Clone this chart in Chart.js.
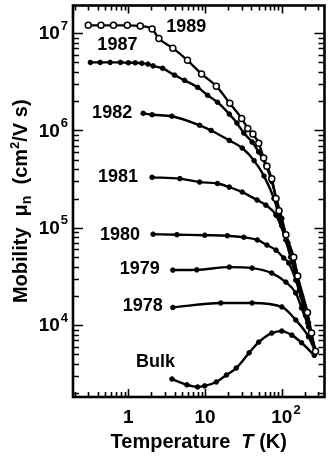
<!DOCTYPE html>
<html>
<head>
<meta charset="utf-8">
<script src="https://cdn.jsdelivr.net/npm/chart.js@4.4.1/dist/chart.umd.min.js"></script>
<style>
html, body { margin: 0; padding: 0; background: #fff; }
#wrap { width: 330px; height: 456px; position: relative; }
</style>
</head>
<body>
<div id="wrap"><canvas id="graphCanvas"></canvas></div>
<script>
// temperature (K) and electron mobility (cm^2/V s) for each sample year
var t1989 = [0.30, 0.44, 0.64, 0.97, 1.43, 2.04, 2.5, 3.8, 5.9, 9.0, 14, 21, 30, 36, 42, 50, 58, 64, 74, 84, 92, 113, 143, 161, 216, 244, 275];
var mu1989 = [1.2e7, 1.2e7, 1.2e7, 1.2e7, 1.18e7, 1.1e7, 8.8e6, 7.0e6, 5.25e6, 3.8e6, 2.85e6, 1.9e6, 1.33e6, 1.05e6, 9.2e5, 7.4e5, 5.2e5, 4.3e5, 3.2e5, 2.0e5, 1.5e5, 8.5e4, 5.0e4, 3.2e4, 1.35e4, 8.3e3, 5.4e3];

var t1987 = [0.32, 0.43, 0.58, 0.79, 1.0, 1.23, 1.5, 1.8, 2.1, 2.8, 4.0, 5.4, 8.0, 10.8, 14.5, 20.7, 26, 32, 41, 50, 62, 74, 85, 100, 120, 150, 180, 220, 275];
var mu1987 = [5.0e6, 5.0e6, 5.0e6, 5.0e6, 4.95e6, 4.95e6, 4.9e6, 4.8e6, 4.6e6, 4.35e6, 3.7e6, 3.27e6, 2.77e6, 2.3e6, 1.95e6, 1.47e6, 1.19e6, 9.4e5, 7.6e5, 6.0e5, 4.4e5, 3.0e5, 2.0e5, 1.25e5, 7.0e4, 3.6e4, 2.0e4, 1.05e4, 5.3e3];

var t1982 = [1.56, 2.04, 3.7, 8.5, 12, 20.7, 30.5, 43.5, 58.6, 79, 100, 130, 170, 220, 275];
var mu1982 = [1.5e6, 1.45e6, 1.4e6, 1.13e6, 1.0e6, 7.9e5, 6.6e5, 4.9e5, 3.4e5, 2.0e5, 1.05e5, 5.0e4, 2.3e4, 1.05e4, 5.3e3];

var t1981 = [2.04, 4.7, 8.5, 14.5, 20.7, 30.5, 47.6, 62, 84, 113, 152, 204, 275];
var mu1981 = [3.3e5, 3.2e5, 2.95e5, 2.85e5, 2.62e5, 2.33e5, 1.93e5, 1.71e5, 1.35e5, 7.5e4, 3.3e4, 1.26e4, 5.3e3];

var t1980 = [2.1, 4.3, 9.9, 19.5, 32, 48, 64, 84, 106, 123, 152, 192, 223, 275];
var mu1980 = [8.6e4, 8.5e4, 8.4e4, 8.3e4, 8.0e4, 7.5e4, 6.65e4, 5.9e4, 4.9e4, 4.35e4, 2.9e4, 1.6e4, 1.05e4, 5.3e3];

var t1979 = [3.8, 7.8, 20.7, 41, 74, 113, 152, 181, 223, 275];
var mu1979 = [3.68e4, 3.7e4, 3.95e4, 3.86e4, 3.43e4, 2.77e4, 2.14e4, 1.5e4, 9.6e3, 5.3e3];

var t1978 = [3.8, 16, 41, 100, 152, 223, 275];
var mu1978 = [1.52e4, 1.69e4, 1.69e4, 1.54e4, 1.13e4, 7.6e3, 5.3e3];

var tBulk = [3.7, 5.8, 8.0, 9.9, 14, 19, 25.5, 37.5, 50, 74, 100, 135, 181, 265];
var muBulk = [2.8e3, 2.44e3, 2.32e3, 2.38e3, 2.61e3, 3.08e3, 3.63e3, 5.2e3, 6.7e3, 8.3e3, 8.7e3, 7.9e3, 6.6e3, 4.9e3];

var seriesNames = ['1989', '1987', '1982', '1981', '1980', '1979', '1978', 'Bulk'];
var seriesT = [t1989, t1987, t1982, t1981, t1980, t1979, t1978, tBulk];
var seriesMu = [mu1989, mu1987, mu1982, mu1981, mu1980, mu1979, mu1978, muBulk];

// decade labels, "base^exponent"
var xTickValues = [1, 10, 100];
var xTickLabels = ['1', '10', '10^2'];
var yTickValues = [1e4, 1e5, 1e6, 1e7];
var yTickLabels = ['10^4', '10^5', '10^6', '10^7'];

var FONT = "'Liberation Sans', Arial, sans-serif";

// where each curve's name sits, relative to its first point
var nameOffsets = [
    { dx: 78, dy: 2, align: 'left' },
    { dx: 7, dy: -17, align: 'left' },
    { dx: -11, dy: 0, align: 'right' },
    { dx: -14, dy: 0, align: 'right' },
    { dx: -13, dy: 1, align: 'right' },
    { dx: -13, dy: -1, align: 'right' },
    { dx: -10, dy: -1, align: 'right' },
    { dx: 3, dy: -17, align: 'right' }
];

var datasets = [];
for (var s = 0; s < seriesNames.length; s++) {
    var pts = [];
    for (var i = 0; i < seriesT[s].length; i++) {
        pts.push({ x: seriesT[s][i], y: seriesMu[s][i] });
    }
    var open = seriesNames[s] === '1989';
    datasets.push({
        label: seriesNames[s],
        data: pts,
        borderColor: '#000',
        borderWidth: 2.4,
        backgroundColor: open ? '#fff' : '#000',
        pointBackgroundColor: open ? '#fff' : '#000',
        pointBorderColor: '#000',
        pointBorderWidth: open ? 1.5 : 1,
        pointRadius: open ? 3 : 2.3,
        cubicInterpolationMode: 'monotone',
        fill: false
    });
}

// "10^2" -> base with a raised exponent; align is where x sits on the base
function drawPower(ctx, label, x, y, align) {
    var parts = label.split('^');
    ctx.font = 'bold 19px ' + FONT;
    var wb = ctx.measureText(parts[0]).width;
    var we = 0;
    if (parts[1]) {
        ctx.font = 'bold 13px ' + FONT;
        we = ctx.measureText(parts[1]).width + 1;
    }
    var x0 = align === 'right' ? x - wb - we : x - wb / 2;
    ctx.font = 'bold 19px ' + FONT;
    ctx.fillText(parts[0], x0, y);
    if (parts[1]) {
        ctx.font = 'bold 13px ' + FONT;
        ctx.fillText(parts[1], x0 + wb + 1, y - 8);
    }
}

// box, inward ticks on all four sides, tick labels and axis titles
var framePlugin = {
    id: 'frame',
    beforeDatasetsDraw: function (chart) {
        var ctx = chart.ctx, a = chart.chartArea;
        var xs = chart.scales.x, ys = chart.scales.y;
        ctx.save();
        ctx.strokeStyle = '#000';
        ctx.lineWidth = 1.6;
        ctx.beginPath();
        for (var e = -1; e <= 2; e++) {
            for (var m = 1; m <= 9; m++) {
                var v = m * Math.pow(10, e);
                if (v < xs.min || v > xs.max) continue;
                var px = Math.round(xs.getPixelForValue(v)) + 0.5;
                var len = m === 1 ? 8 : 5;
                ctx.moveTo(px, a.bottom); ctx.lineTo(px, a.bottom - len);
                ctx.moveTo(px, a.top); ctx.lineTo(px, a.top + len);
            }
        }
        for (var e2 = 3; e2 <= 7; e2++) {
            for (var m2 = 1; m2 <= 9; m2++) {
                var v2 = m2 * Math.pow(10, e2);
                if (v2 < ys.min || v2 > ys.max) continue;
                var py = Math.round(ys.getPixelForValue(v2)) + 0.5;
                var len2 = m2 === 1 ? 10 : 6;
                ctx.moveTo(a.left, py); ctx.lineTo(a.left + len2, py);
                ctx.moveTo(a.right, py); ctx.lineTo(a.right - len2, py);
            }
        }
        ctx.stroke();
        ctx.lineWidth = 2.6;
        ctx.strokeRect(a.left, a.top, a.right - a.left, a.bottom - a.top);

        ctx.fillStyle = '#000';
        ctx.textAlign = 'left';
        ctx.textBaseline = 'middle';
        for (var i = 0; i < xTickValues.length; i++) {
            drawPower(ctx, xTickLabels[i], xs.getPixelForValue(xTickValues[i]), a.bottom + 21, 'center');
        }
        for (var j = 0; j < yTickValues.length; j++) {
            drawPower(ctx, yTickLabels[j], a.left - 5, ys.getPixelForValue(yTickValues[j]) + 1, 'right');
        }

        ctx.textBaseline = 'alphabetic';

        // x title with italic T
        var f = 'bold 20px ' + FONT, fi = 'italic bold 20px ' + FONT;
        ctx.font = f;
        var w1 = ctx.measureText('Temperature  ').width;
        var w3 = ctx.measureText(' (K)').width;
        ctx.font = fi;
        var w2 = ctx.measureText('T').width;
        var x0 = (a.left + a.right) / 2 - (w1 + w2 + w3) / 2;
        ctx.font = f; ctx.fillText('Temperature  ', x0, 448);
        ctx.font = fi; ctx.fillText('T', x0 + w1, 448);
        ctx.font = f; ctx.fillText(' (K)', x0 + w1 + w2, 448);

        // y title, rotated, with subscript n and superscript 2
        var parts = [
            { t: 'Mobility  \u03bc', size: 20, dy: 0 },
            { t: 'n', size: 14, dy: 4 },
            { t: '  (cm', size: 20, dy: 0 },
            { t: '2', size: 13, dy: -8 },
            { t: '/V s)', size: 20, dy: 0 }
        ];
        var total = 0;
        parts.forEach(function (p) {
            ctx.font = 'bold ' + p.size + 'px ' + FONT;
            p.w = ctx.measureText(p.t).width;
            total += p.w;
        });
        ctx.translate(27, (a.top + a.bottom) / 2);
        ctx.rotate(-Math.PI / 2);
        var cx = -total / 2;
        parts.forEach(function (p) {
            ctx.font = 'bold ' + p.size + 'px ' + FONT;
            ctx.fillText(p.t, cx, p.dy);
            cx += p.w;
        });
        ctx.restore();
    },
    afterDatasetsDraw: function (chart) {
        var ctx = chart.ctx;
        ctx.save();
        ctx.fillStyle = '#000';
        ctx.font = 'bold 18px ' + FONT;
        ctx.textBaseline = 'middle';
        for (var i = 0; i < seriesNames.length; i++) {
            var p = chart.getDatasetMeta(i).data[0];
            var o = nameOffsets[i];
            ctx.textAlign = o.align;
            ctx.fillText(seriesNames[i], p.x + o.dx, p.y + o.dy);
        }
        ctx.restore();
    }
};

var graphTarget = document.getElementById('graphCanvas');
var chart = new Chart(graphTarget, {
    type: 'line',
    data: { datasets: datasets },
    options: {
        responsive: true,
        maintainAspectRatio: false,
        animation: false,
        layout: { padding: { top: 5, right: 4, left: 0, bottom: 0 } },
        plugins: { legend: { display: false }, tooltip: { enabled: false } },
        scales: {
            x: {
                type: 'logarithmic',
                min: 0.19,
                max: 360,
                grid: { display: false, drawTicks: false },
                border: { display: false },
                ticks: { display: false },
                afterFit: function (scale) { scale.height = 59; }
            },
            y: {
                type: 'logarithmic',
                min: 1830,
                max: 1.92e7,
                grid: { display: false, drawTicks: false },
                border: { display: false },
                ticks: { display: false },
                afterFit: function (scale) { scale.width = 73; }
            }
        }
    },
    plugins: [framePlugin]
});
</script>
</body>
</html>
